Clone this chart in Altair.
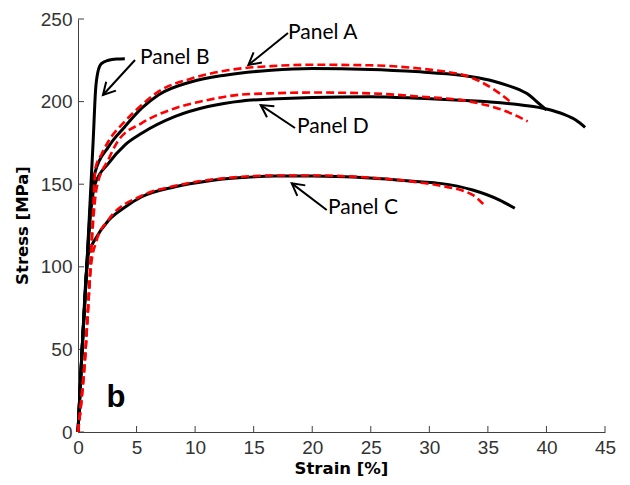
import math
import altair as alt
import pandas as pd

# ---- data ----
a_black_x = [0, 0.35, 0.75, 1.05, 1.45, 2.6, 4.0, 5.44, 6.86, 9.7, 12.55, 16.5, 20, 25, 29.2, 31.5, 33.6, 35.5, 36.6, 38.3, 39.5, 40.0]
a_black_y = [0, 50, 100, 135, 157, 172.6, 184.8, 196, 204, 212, 216, 219, 220, 219.5, 218, 216.8, 215, 212.3, 210, 205, 198, 195]
a_red_x = [0, 0.3, 0.6, 0.9, 1.2, 1.5, 2.0, 2.6, 4.0, 5.44, 6.86, 9.7, 12.55, 16.5, 20, 24.9, 29.2, 31, 33.6, 36.0, 36.9]
a_red_y = [0, 20, 45, 80, 120, 160, 168, 176, 188, 198, 206, 214, 218.7, 221.5, 222.3, 222, 220, 218.5, 214.5, 205, 200]

b_black_x = [0, 0.35, 0.75, 1.05, 1.3, 1.5, 1.7, 2.0, 2.6, 3.3, 4.0]
b_black_y = [0, 50, 100, 142, 177, 207, 218, 223, 225, 225.8, 226]

c_black_x = [0, 0.35, 0.75, 0.9, 1.5, 2.6, 4.0, 5.44, 8.3, 11.1, 14, 16.8, 20, 24.9, 29.2, 30.9, 33.7, 36.0, 37.3]
c_black_y = [0, 50, 100, 108, 117, 128, 136, 142.4, 148.5, 152, 154, 155, 155, 153.8, 151.5, 150.5, 146.5, 140.4, 135.4]
c_red_x = [0, 0.3, 0.6, 0.9, 1.1, 1.5, 2.6, 5.44, 8.3, 11.1, 14, 16.8, 20, 24.9, 29.2, 31, 33.7, 34.6]
c_red_y = [0, 20, 45, 80, 100, 114, 128.5, 143, 149, 152.5, 154.5, 155.3, 155.3, 154, 151, 149, 143.5, 138]

d_black_x = [0, 0.35, 0.75, 1.05, 1.45, 2.6, 4.0, 5.44, 8.3, 11.1, 14, 16.5, 20, 24.9, 29.2, 33.5, 35.2, 38, 40, 41.5, 42.5, 43.3]
d_black_y = [0, 50, 100, 130, 150, 162.6, 173.7, 180.8, 191, 197, 200.4, 201.5, 202.5, 203, 202, 200.5, 199.8, 197.8, 195.5, 192.2, 188.8, 184.4]
d_red_x = [0, 0.3, 0.6, 0.9, 1.2, 1.6, 2.6, 3.4, 5.44, 8.3, 11.1, 14, 16.5, 20, 24.9, 29.2, 33.5, 36.6, 38.4]
d_red_y = [0, 20, 45, 80, 118, 148, 165, 176, 187, 196, 201, 204.3, 205, 205.5, 205, 203, 200, 194, 188]

labels = ["Panel A", "Panel B", "Panel C", "Panel D"]
label_x = [17.93, 5.3, 21.35, 18.7]
label_y = [241.5, 226.4, 135.6, 184.6]
arrow_x0 = [17.93, 4.87, 21.24, 18.53]
arrow_y0 = [241.5, 225.2, 134.4, 184.0]
arrow_x1 = [14.55, 2.13, 18.25, 15.6]
arrow_y1 = [222.2, 204.0, 150.5, 197.9]

x_ticks = [0, 5, 10, 15, 20, 25, 30, 35, 40, 45]
y_ticks = [0, 50, 100, 150, 200, 250]

W, H = 527, 413
XMAX, YMAX = 45, 250

# ---- tables ----
rows = []
for name, xs, ys, kind in [
    ("A black", a_black_x, a_black_y, "black"),
    ("B black", b_black_x, b_black_y, "black"),
    ("C black", c_black_x, c_black_y, "black"),
    ("D black", d_black_x, d_black_y, "black"),
    ("A red", a_red_x, a_red_y, "red"),
    ("C red", c_red_x, c_red_y, "red"),
    ("D red", d_red_x, d_red_y, "red"),
]:
    for i, (x, y) in enumerate(zip(xs, ys)):
        rows.append({"series": name, "kind": kind, "strain": x, "stress": y, "order": i})
df = pd.DataFrame(rows)

kx, ky = W / XMAX, H / YMAX
ann = []
for i in range(len(labels)):
    dx = (arrow_x1[i] - arrow_x0[i]) * kx
    dy = -(arrow_y1[i] - arrow_y0[i]) * ky
    ang = math.degrees(math.atan2(dx, -dy)) % 360
    ann.append({"label": labels[i], "lx": label_x[i], "ly": label_y[i],
                "x0": arrow_x0[i], "y0": arrow_y0[i], "x1": arrow_x1[i], "y1": arrow_y1[i],
                "angle": ang})
ann = pd.DataFrame(ann)

xscale = alt.Scale(domain=[0, XMAX], nice=False, zero=False)
yscale = alt.Scale(domain=[0, YMAX], nice=False, zero=False)

xaxis = alt.Axis(values=x_ticks, ticks=False, grid=False, labelPadding=6,
                 labelFontSize=19, labelFont="Liberation Sans", labelColor="#333333",
                 domainColor="#404040", domainWidth=1,
                 title="Strain [%]", titleFont="DejaVu Sans", titleFontWeight="bold",
                 titleFontSize=16.5, titleColor="#000000", titleX=263, titleY=36,
                 titleBaseline="middle", titleAnchor="middle", labelFlush=False)
yaxis = alt.Axis(values=y_ticks, ticks=False, grid=False, labelPadding=6,
                 labelFontSize=19, labelFont="Liberation Sans", labelColor="#333333",
                 domainColor="#404040", domainWidth=1,
                 title="Stress [MPa]", titleFont="DejaVu Sans", titleFontWeight="bold",
                 titleFontSize=16.5, titleColor="#000000", titleX=-56, titleY=206,
                 titleBaseline="middle", titleAngle=270, titleAnchor="middle", labelFlush=False)

black = alt.Chart(df[df.kind == "black"]).mark_line(
    color="black", strokeWidth=3, interpolate="monotone").encode(
    x=alt.X("strain:Q", scale=xscale, axis=xaxis),
    y=alt.Y("stress:Q", scale=yscale, axis=yaxis),
    detail="series:N",
    order="order:Q",
)
red = alt.Chart(df[df.kind == "red"]).mark_line(
    color="#ff0000", strokeWidth=2.6, strokeDash=[8, 4], interpolate="monotone").encode(
    x="strain:Q", y="stress:Q", detail="series:N", order="order:Q"
)

shafts = alt.Chart(ann).mark_rule(color="black", strokeWidth=2).encode(
    x="x0:Q", y="y0:Q", x2="x1:Q", y2="y1:Q"
)
heads = alt.Chart(ann).mark_point(
    shape="M -0.55 1 L 0 0 L 0.55 1", filled=False, color="black", strokeWidth=2, size=576, opacity=1
).encode(x="x1:Q", y="y1:Q", angle=alt.Angle("angle:Q", scale=None))

texts = alt.Chart(ann).mark_text(align="left", baseline="middle", font="Lato", fontSize=21, color="black").encode(
    x="lx:Q", y="ly:Q", text="label:N"
)

b_label = alt.Chart(pd.DataFrame({"x": [3.25], "y": [20.5], "t": ["b"]})).mark_text(
    font="Liberation Sans", fontWeight="bold", fontSize=31, color="black", align="center", baseline="middle"
).encode(x="x:Q", y="y:Q", text="t:N")

xt = alt.Chart(pd.DataFrame({"v": x_ticks})).mark_rule(color="#404040", strokeWidth=1).encode(
    x="v:Q", y=alt.value(H), y2=alt.value(H - 6)
)
yt = alt.Chart(pd.DataFrame({"v": y_ticks})).mark_rule(color="#404040", strokeWidth=1).encode(
    y="v:Q", x=alt.value(0), x2=alt.value(6)
)

chart = alt.layer(xt, yt, black, red, shafts, heads, texts, b_label).properties(
    width=W, height=H,
    padding={"left": 70, "top": 11, "right": 17, "bottom": 45},
    autosize=alt.AutoSizeParams(type="none"),
    background="white",
).configure_view(stroke=None)

chart.save("out.html", embed_options={"renderer": "svg", "actions": False})
